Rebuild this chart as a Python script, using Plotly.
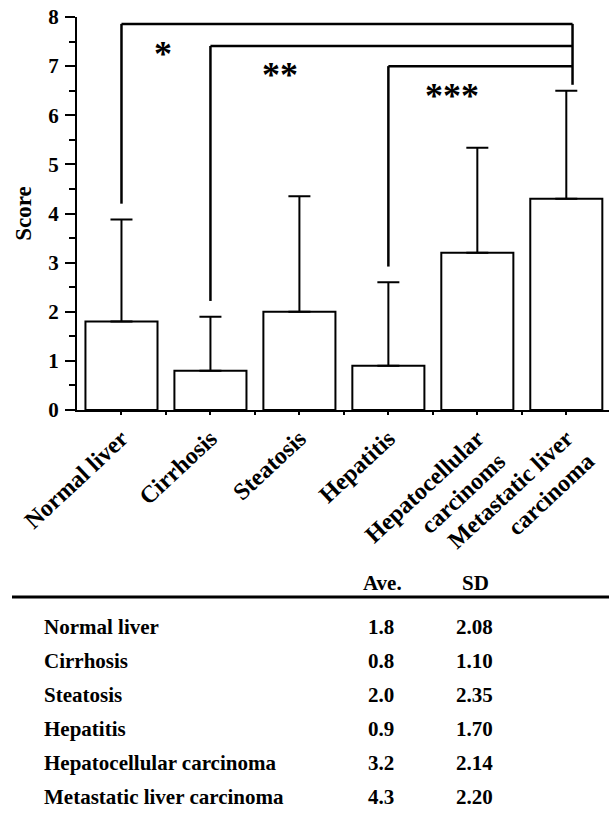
import plotly.graph_objects as go

# ---------------- data ----------------
tick_labels = ["Normal liver", "Cirrhosis", "Steatosis", "Hepatitis",
               "Hepatocellular<br>carcinoms", "Metastatic liver<br>carcinoma"]
table_names = ["Normal liver", "Cirrhosis", "Steatosis", "Hepatitis",
               "Hepatocellular carcinoma", "Metastatic liver carcinoma"]
ave = [1.8, 0.8, 2.0, 0.9, 3.2, 4.3]
sd = [2.08, 1.10, 2.35, 1.70, 2.14, 2.20]
ave_txt = ["1.8", "0.8", "2.0", "0.9", "3.2", "4.3"]
sd_txt = ["2.08", "1.10", "2.35", "1.70", "2.14", "2.20"]
y_ticks = [0, 1, 2, 3, 4, 5, 6, 7, 8]

# significance brackets: (left group, right group, bracket height, stars)
brackets = [(0, 5, 7.86, "*"), (1, 5, 7.41, "**"), (3, 5, 7.0, "***")]
star_pos = [(0.47, 7.33), (1.78, 6.9), (3.71, 6.48)]

FONT = "Liberation Serif, Times New Roman, serif"
W, H = 609, 820
xs = list(range(len(ave)))

fig = go.Figure()
fig.add_trace(go.Bar(
    x=xs, y=ave, width=0.81,
    marker=dict(color="white", line=dict(color="black", width=2)),
    error_y=dict(type="data", symmetric=False, array=sd,
                 arrayminus=[0] * len(sd), width=11, thickness=2,
                 color="black"),
    showlegend=False, hoverinfo="skip",
))

shapes = []
right_idx = 5
right_x = right_idx + 0.07
right_bottom = ave[right_idx] + sd[right_idx] + 0.12
for (li, ri, h, s) in brackets:
    lb = ave[li] + sd[li] + 0.32
    shapes.append(dict(type="line", xref="x", yref="y", x0=li, x1=li,
                       y0=lb, y1=h, line=dict(color="black", width=2.5)))
    shapes.append(dict(type="line", xref="x", yref="y", x0=li, x1=right_x,
                       y0=h, y1=h, line=dict(color="black", width=2.5)))
top_h = max(b[2] for b in brackets)
shapes.append(dict(type="line", xref="x", yref="y", x0=right_x, x1=right_x,
                   y0=right_bottom, y1=top_h, line=dict(color="black", width=2.5)))

annotations = []
for (b, (sx, sy)) in zip(brackets, star_pos):
    annotations.append(dict(x=sx, y=sy, xref="x", yref="y", text="<b>" + b[3] + "</b>",
                            showarrow=False, yshift=-4,
                            font=dict(family=FONT, size=36, color="black")))

# ---------------- table ----------------
def py(p):
    return 1 - p / H

def px(p):
    return p / W

TF = dict(family=FONT, size=21, color="black")
hdr_y = 583
annotations.append(dict(x=px(382), y=py(hdr_y), xref="paper", yref="paper",
                        text="<b>Ave.</b>", showarrow=False, xanchor="center",
                        yanchor="middle", font=TF))
annotations.append(dict(x=px(475), y=py(hdr_y), xref="paper", yref="paper",
                        text="<b>SD</b>", showarrow=False, xanchor="center",
                        yanchor="middle", font=TF))
shapes.append(dict(type="line", xref="paper", yref="paper",
                   x0=px(12), x1=1, y0=py(597), y1=py(597),
                   line=dict(color="black", width=3)))
for i, (n, a, s) in enumerate(zip(table_names, ave_txt, sd_txt)):
    ry = 627 + 34 * i
    annotations.append(dict(x=px(42), y=py(ry), xref="paper", yref="paper",
                            text="<b>" + n + "</b>", showarrow=False,
                            xanchor="left", yanchor="middle", font=TF))
    annotations.append(dict(x=px(381), y=py(ry), xref="paper", yref="paper",
                            text="<b>" + a + "</b>", showarrow=False,
                            xanchor="center", yanchor="middle", font=TF))
    annotations.append(dict(x=px(474), y=py(ry), xref="paper", yref="paper",
                            text="<b>" + s + "</b>", showarrow=False,
                            xanchor="center", yanchor="middle", font=TF))

fig.update_layout(
    width=W, height=H,
    margin=dict(l=0, r=0, t=0, b=0, autoexpand=False),
    paper_bgcolor="white", plot_bgcolor="white",
    font=dict(family=FONT, color="black"),
    shapes=shapes, annotations=annotations,
    xaxis=dict(
        domain=[77 / W, 1], range=[-0.5, 5.48], automargin=False,
        tickmode="array", tickvals=xs,
        ticktext=["<b>" + t + "</b>" for t in tick_labels],
        tickangle=-43, tickfont=dict(family=FONT, size=24, color="black"),
        ticks="outside", ticklen=3, tickwidth=2, tickcolor="black",
        minor=dict(tickvals=[i + 0.5 for i in xs], ticks="outside",
                   ticklen=3, tickwidth=2, tickcolor="black"),
        showline=True, linecolor="black", linewidth=2,
        showgrid=False, zeroline=False, fixedrange=True,
    ),
    yaxis=dict(
        domain=[1 - 410 / H, 1 - 17 / H], range=[0, 8], automargin=False,
        tickmode="array", tickvals=y_ticks,
        ticktext=["<b>%d</b>" % v for v in y_ticks],
        tickfont=dict(family=FONT, size=21, color="black"),
        ticklabelstandoff=2,
        ticks="outside", ticklen=10, tickwidth=2, tickcolor="black",
        minor=dict(tickvals=[v + 0.5 for v in y_ticks[:-1]], ticks="outside",
                   ticklen=6, tickwidth=2, tickcolor="black"),
        showline=True, linecolor="black", linewidth=2,
        showgrid=False, zeroline=False, fixedrange=True,
        title=dict(text="<b>Score</b>", font=dict(family=FONT, size=23, color="black"),
                   standoff=10),
    ),
)

fig.write_html("out.html", config={"displayModeBar": False, "staticPlot": True},
               post_script="document.body.style.margin='0';"
                           "document.body.style.overflow='hidden';")
